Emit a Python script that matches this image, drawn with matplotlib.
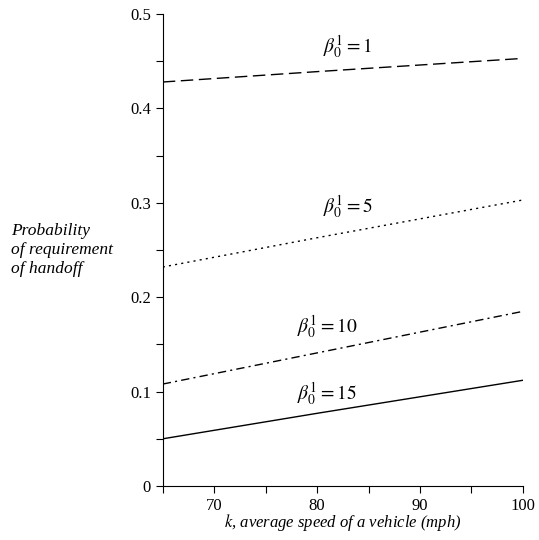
import matplotlib.pyplot as plt
from matplotlib.ticker import MultipleLocator

speeds = [65, 80, 100]
beta1 = [0.428, 0.439, 0.453]
beta5 = [0.232, 0.263, 0.303]
beta10 = [0.108, 0.141, 0.185]
beta15 = [0.050, 0.077, 0.112]

plt.rcParams['font.family'] = ['Liberation Serif', 'DejaVu Serif']
plt.rcParams['mathtext.fontset'] = 'stix'

fig = plt.figure(figsize=(5.39, 5.40), dpi=100)
ax = fig.add_axes([0.302, 0.1, 0.668, 0.874])

ax.plot(speeds, beta1, color='black', lw=1, dashes=(9, 4))
ax.plot(speeds, beta5, color='black', lw=1, dashes=(1.5, 3))
ax.plot(speeds, beta10, color='black', lw=1, dashes=(6, 3, 1.5, 3))
ax.plot(speeds, beta15, color='black', lw=1)

labels = [(83, 0.450, '1'), (83, 0.281, '5'), (81, 0.154, '10'), (81, 0.083, '15')]
for x, y, s in labels:
    ax.text(x, y, r'$\beta_0^1 = %s$' % s, ha='center', va='bottom', fontsize=14)

ax.set_xlim(65, 100)
ax.set_ylim(0, 0.5)
ax.xaxis.set_major_locator(MultipleLocator(10))
ax.xaxis.set_minor_locator(MultipleLocator(5))
ax.yaxis.set_major_locator(MultipleLocator(0.1))
ax.yaxis.set_minor_locator(MultipleLocator(0.05))
ax.set_xticks([70, 80, 90, 100])
ax.set_yticks([0, 0.1, 0.2, 0.3, 0.4, 0.5])
ax.set_yticklabels(['0', '0.1', '0.2', '0.3', '0.4', '0.5'])
ax.tick_params(which='both', direction='out', labelsize=12, width=0.8)
ax.tick_params(which='major', length=5)
ax.tick_params(which='minor', length=5)

ax.spines['top'].set_visible(False)
ax.spines['right'].set_visible(False)

ax.set_xlabel(r'$k$, average speed of a vehicle (mph)', fontsize=12, style='italic', labelpad=-1)
fig.text(0.02, 0.537, 'Probability\nof requirement\nof handoff', fontsize=12.5,
         style='italic', ha='left', va='center', linespacing=1.25)

fig.savefig('out.png', dpi=100)
